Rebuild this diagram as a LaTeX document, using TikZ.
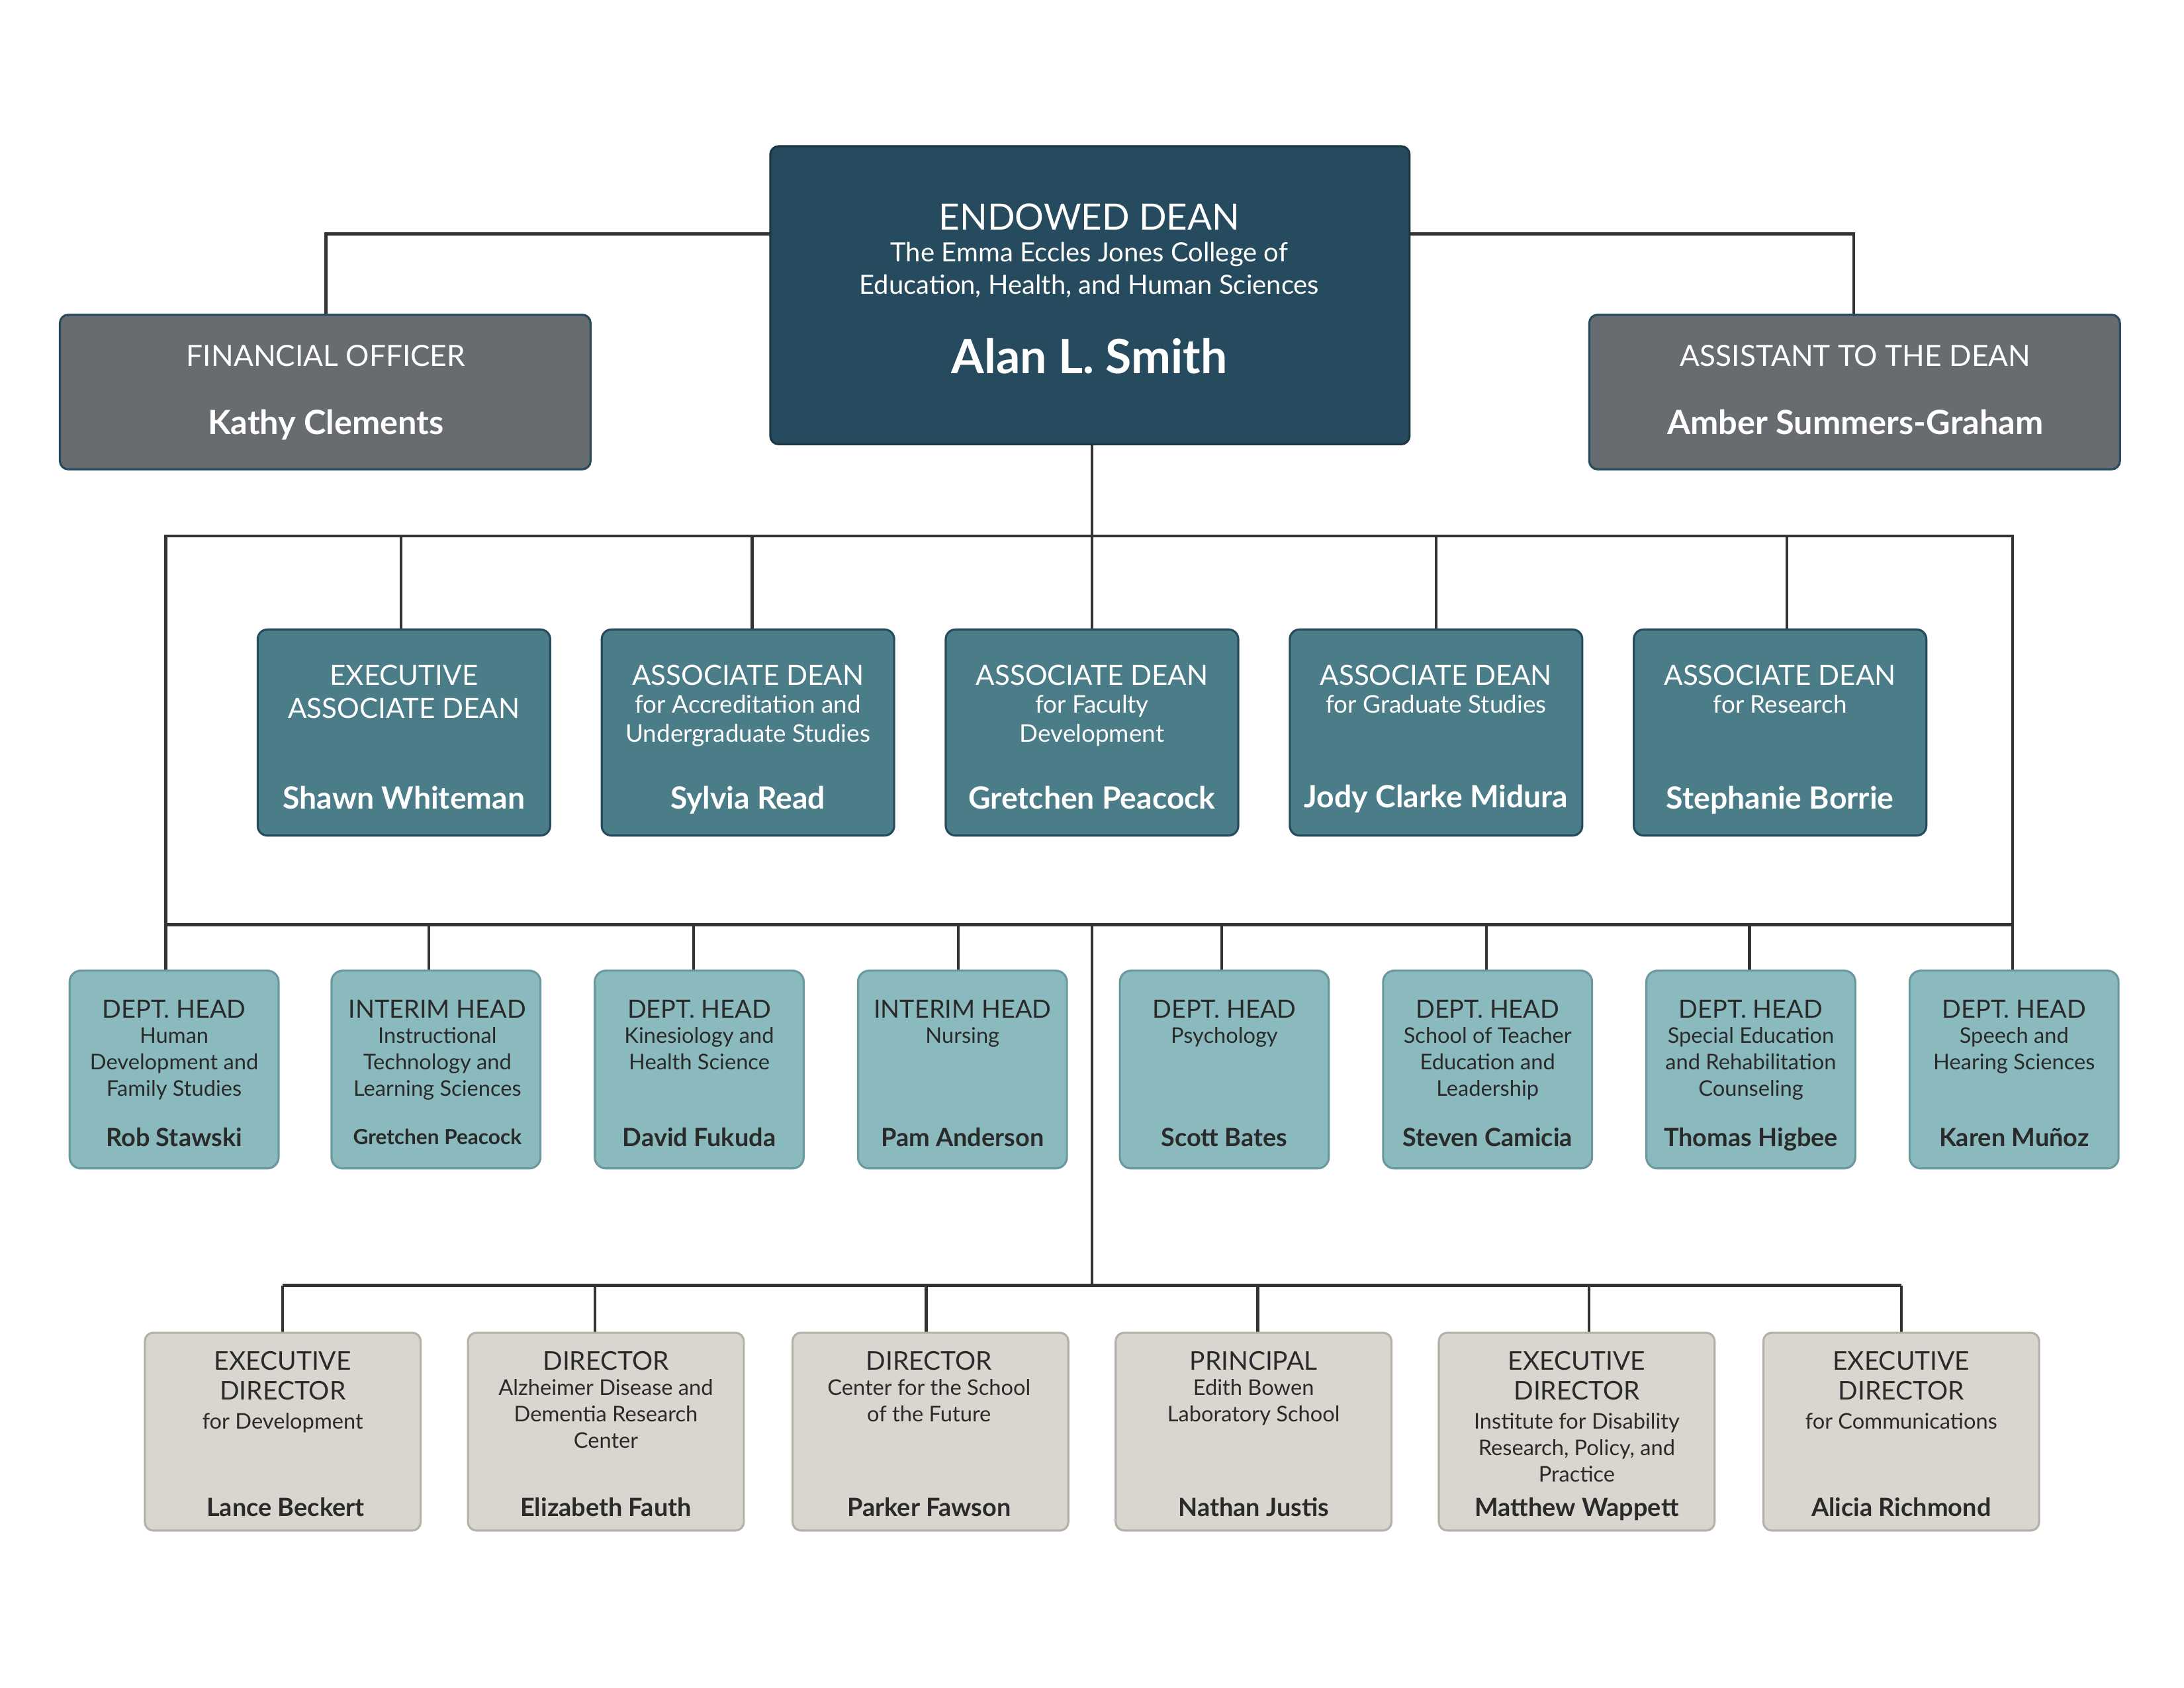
\documentclass[tikz,border=0pt]{standalone}
\usepackage{fontspec}
\setmainfont{Lato}
\definecolor{dean}{HTML}{274B5E}
\definecolor{grayb}{HTML}{686C70}
\definecolor{assoc}{HTML}{4B7D88}
\definecolor{dept}{HTML}{8ABABD}
\definecolor{deptb}{HTML}{6A9A9E}
\definecolor{unit}{HTML}{D9D6CF}
\definecolor{unitb}{HTML}{B5B1A8}
\definecolor{ink}{HTML}{2A2A2A}
\definecolor{lin}{HTML}{333333}
\newcommand{\fs}[1]{\fontsize{#1}{#1}\selectfont}
\newcommand{\bx}[6]{\path[#6,rounded corners=6pt] (#2,#3) rectangle (#4,#5);
  \coordinate (#1) at ({(#2+#4)/2},#3);}
\newcommand{\tl}[4]{\node[anchor=base,inner sep=0,#3] at (#1,#2) {#4};}
\begin{document}
\begin{tikzpicture}[x=1pt,y=-1pt,
  lk/.style={draw=lin,line width=2pt},
  wt/.style={text=white},
  dk/.style={text=ink}]
\useasboundingbox[fill=white] (0,0) rectangle (1568,1212);
% connectors
\draw[lk] (553,168) -- (234,168) -- (234,226);
\draw[lk] (1012,168) -- (1331,168) -- (1331,226);
\draw[lk] (784,319) -- (784,385);
\draw[lk] (119,385) rectangle (1445,664);
\foreach \x in {288,540,784,1031,1283} \draw[lk] (\x,385) -- (\x,452);
\foreach \x in {119,308,498,688,877,1067,1256,1445} \draw[lk] (\x,664) -- (\x,697);
\draw[lk] (784,664) -- (784,923);
\draw[lk] (203,923) -- (1365,923);
\foreach \x in {203,427,665,903,1141,1365} \draw[lk] (\x,923) -- (\x,957);
% boxes
\bx{dn}{553}{105}{1012}{319}{fill=dean,draw=dean!70!black,line width=1.5pt}
\bx{fo}{43}{226}{424}{337}{fill=grayb,draw=dean,line width=1.5pt}
\bx{ad}{1141}{226}{1522}{337}{fill=grayb,draw=dean,line width=1.5pt}
\foreach \a in {185,432,679,926,1173}
  \path[fill=assoc,draw=dean,line width=1.5pt,rounded corners=7pt] (\a,452) rectangle (\a+210,600);
\foreach \a in {50,238,427,616,804,993,1182,1371}
  \path[fill=dept,draw=deptb,line width=1.5pt,rounded corners=8pt] (\a,697) rectangle (\a+150,839);
\foreach \a in {104,336,569,801,1033,1266}
  \path[fill=unit,draw=unitb,line width=1.5pt,rounded corners=6pt] (\a,957) rectangle (\a+198,1099);
% dean
\tl{782}{165}{wt,font=\fs{26}}{ENDOWED DEAN}
\tl{782}{188}{wt,font=\fs{19}}{The Emma Eccles Jones College of}
\tl{782}{211}{wt,font=\fs{19}}{Education, Health, and Human Sciences}
\tl{782}{268}{wt,font=\fs{34}\bfseries}{Alan L. Smith}
\tl{234}{263}{wt,font=\fs{21}}{FINANCIAL OFFICER}
\tl{234}{312}{wt,font=\fs{24}\bfseries}{Kathy Clements}
\tl{1332}{263}{wt,font=\fs{21}}{ASSISTANT TO THE DEAN}
\tl{1332}{312}{wt,font=\fs{24}\bfseries}{Amber Summers-Graham}
% assoc
\tl{290}{492}{wt,font=\fs{20}}{EXECUTIVE}
\tl{290}{516}{wt,font=\fs{20}}{ASSOCIATE DEAN}
\tl{290}{581}{wt,font=\fs{22}\bfseries}{Shawn Whiteman}
\tl{537}{492}{wt,font=\fs{20}}{ASSOCIATE DEAN}
\tl{537}{512}{wt,font=\fs{17.5}}{for Accreditation and}
\tl{537}{533}{wt,font=\fs{17.5}}{Undergraduate Studies}
\tl{537}{581}{wt,font=\fs{22}\bfseries}{Sylvia Read}
\tl{784}{492}{wt,font=\fs{20}}{ASSOCIATE DEAN}
\tl{784}{512}{wt,font=\fs{17.5}}{for Faculty}
\tl{784}{533}{wt,font=\fs{17.5}}{Development}
\tl{784}{581}{wt,font=\fs{22}\bfseries}{Gretchen Peacock}
\tl{1031}{492}{wt,font=\fs{20}}{ASSOCIATE DEAN}
\tl{1031}{512}{wt,font=\fs{17.5}}{for Graduate Studies}
\tl{1031}{580}{wt,font=\fs{22}\bfseries}{Jody Clarke Midura}
\tl{1278}{492}{wt,font=\fs{20}}{ASSOCIATE DEAN}
\tl{1278}{512}{wt,font=\fs{17.5}}{for Research}
\tl{1278}{581}{wt,font=\fs{22}\bfseries}{Stephanie Borrie}
% depts
\tl{125}{731}{dk,font=\fs{18}}{DEPT. HEAD}
\tl{125}{749}{dk,font=\fs{15.5}}{Human}
\tl{125}{768}{dk,font=\fs{15.5}}{Development and}
\tl{125}{787}{dk,font=\fs{15.5}}{Family Studies}
\tl{125}{823}{dk,font=\fs{18}\bfseries}{Rob Stawski}
\tl{314}{731}{dk,font=\fs{18}}{INTERIM HEAD}
\tl{314}{749}{dk,font=\fs{15.5}}{Instructional}
\tl{314}{768}{dk,font=\fs{15.5}}{Technology and}
\tl{314}{787}{dk,font=\fs{15.5}}{Learning Sciences}
\tl{314}{822}{dk,font=\fs{15}\bfseries}{Gretchen Peacock}
\tl{502}{731}{dk,font=\fs{18}}{DEPT. HEAD}
\tl{502}{749}{dk,font=\fs{15.5}}{Kinesiology and}
\tl{502}{768}{dk,font=\fs{15.5}}{Health Science}
\tl{502}{823}{dk,font=\fs{18}\bfseries}{David Fukuda}
\tl{691}{731}{dk,font=\fs{18}}{INTERIM HEAD}
\tl{691}{749}{dk,font=\fs{15.5}}{Nursing}
\tl{691}{823}{dk,font=\fs{18}\bfseries}{Pam Anderson}
\tl{879}{731}{dk,font=\fs{18}}{DEPT. HEAD}
\tl{879}{749}{dk,font=\fs{15.5}}{Psychology}
\tl{879}{823}{dk,font=\fs{18}\bfseries}{Scott Bates}
\tl{1068}{731}{dk,font=\fs{18}}{DEPT. HEAD}
\tl{1068}{749}{dk,font=\fs{15.5}}{School of Teacher}
\tl{1068}{768}{dk,font=\fs{15.5}}{Education and}
\tl{1068}{787}{dk,font=\fs{15.5}}{Leadership}
\tl{1068}{823}{dk,font=\fs{18}\bfseries}{Steven Camicia}
\tl{1257}{731}{dk,font=\fs{18}}{DEPT. HEAD}
\tl{1257}{749}{dk,font=\fs{15.5}}{Special Education}
\tl{1257}{768}{dk,font=\fs{15.5}}{and Rehabilitation}
\tl{1257}{787}{dk,font=\fs{15.5}}{Counseling}
\tl{1257}{823}{dk,font=\fs{18}\bfseries}{Thomas Higbee}
\tl{1446}{731}{dk,font=\fs{18}}{DEPT. HEAD}
\tl{1446}{749}{dk,font=\fs{15.5}}{Speech and}
\tl{1446}{768}{dk,font=\fs{15.5}}{Hearing Sciences}
\tl{1446}{823}{dk,font=\fs{18}\bfseries}{Karen Muñoz}
% units
\tl{203}{984}{dk,font=\fs{18.5}}{EXECUTIVE}
\tl{203}{1005}{dk,font=\fs{18.5}}{DIRECTOR}
\tl{203}{1026}{dk,font=\fs{15.5}}{for Development}
\tl{205}{1089}{dk,font=\fs{18}\bfseries}{Lance Beckert}
\tl{435}{984}{dk,font=\fs{18.5}}{DIRECTOR}
\tl{435}{1002}{dk,font=\fs{15.5}}{Alzheimer Disease and}
\tl{435}{1021}{dk,font=\fs{15.5}}{Dementia Research}
\tl{435}{1040}{dk,font=\fs{15.5}}{Center}
\tl{435}{1089}{dk,font=\fs{18}\bfseries}{Elizabeth Fauth}
\tl{667}{984}{dk,font=\fs{18.5}}{DIRECTOR}
\tl{667}{1002}{dk,font=\fs{15.5}}{Center for the School}
\tl{667}{1021}{dk,font=\fs{15.5}}{of the Future}
\tl{667}{1089}{dk,font=\fs{18}\bfseries}{Parker Fawson}
\tl{900}{984}{dk,font=\fs{18.5}}{PRINCIPAL}
\tl{900}{1002}{dk,font=\fs{15.5}}{Edith Bowen}
\tl{900}{1021}{dk,font=\fs{15.5}}{Laboratory School}
\tl{900}{1089}{dk,font=\fs{18}\bfseries}{Nathan Justis}
\tl{1132}{984}{dk,font=\fs{18.5}}{EXECUTIVE}
\tl{1132}{1005}{dk,font=\fs{18.5}}{DIRECTOR}
\tl{1132}{1026}{dk,font=\fs{15.5}}{Institute for Disability}
\tl{1132}{1045}{dk,font=\fs{15.5}}{Research, Policy, and}
\tl{1132}{1064}{dk,font=\fs{15.5}}{Practice}
\tl{1132}{1089}{dk,font=\fs{18}\bfseries}{Matthew Wappett}
\tl{1365}{984}{dk,font=\fs{18.5}}{EXECUTIVE}
\tl{1365}{1005}{dk,font=\fs{18.5}}{DIRECTOR}
\tl{1365}{1026}{dk,font=\fs{15.5}}{for Communications}
\tl{1365}{1089}{dk,font=\fs{18}\bfseries}{Alicia Richmond}
\end{tikzpicture}
\end{document}
